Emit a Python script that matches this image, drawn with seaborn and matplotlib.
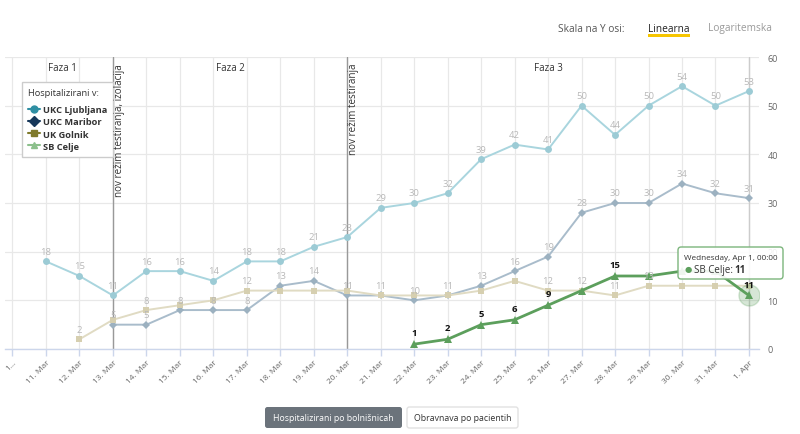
import numpy as np
import pandas as pd
import matplotlib
matplotlib.use("Agg")
import matplotlib.pyplot as plt
import seaborn as sns
from matplotlib.lines import Line2D
from matplotlib.patches import FancyBboxPatch, Rectangle

# ---------------- data ----------------
day_labels = ["1…", "11. Mar", "12. Mar", "13. Mar", "14. Mar", "15. Mar", "16. Mar",
              "17. Mar", "18. Mar", "19. Mar", "20. Mar", "21. Mar", "22. Mar", "23. Mar",
              "24. Mar", "25. Mar", "26. Mar", "27. Mar", "28. Mar", "29. Mar", "30. Mar",
              "31. Mar", "1. Apr"]
ljubljana = [None, 18, 15, 11, 16, 16, 14, 18, 18, 21, 23, 29, 30, 32, 39, 42, 41, 50, 44, 50, 54, 50, 53]
maribor = [None, None, None, 5, 5, 8, 8, 8, 13, 14, 11, 11, 10, 11, 13, 16, 19, 28, 30, 30, 34, 32, 31]
golnik = [None, None, 2, 6, 8, 9, 10, 12, 12, 12, 12, 11, 11, 11, 12, 14, 12, 12, 11, 13, 13, 13, 13]
celje = [None, None, None, None, None, None, None, None, None, None, None, None,
         1, 2, 5, 6, 9, 12, 15, 15, 16, 16, 11]
series_names = ["UKC Ljubljana", "UKC Maribor", "UK Golnik", "SB Celje"]
phase_labels = ["Faza 1", "Faza 2", "Faza 3"]
phase_bounds = [0, 3, 10, 22]
event_days = [3, 10]
event_texts = ["nov režim testiranja, izolacija", "nov režim testiranja"]
yticks = [0, 10, 20, 30, 40, 50, 60]

# ---------------- style ----------------
sns.set_theme(style="white")
plt.rcParams["font.family"] = ["Open Sans", "DejaVu Sans"]

line_colors = {"UKC Ljubljana": "#a9d5de", "UKC Maribor": "#a9bccb",
               "UK Golnik": "#e0dbc3", "SB Celje": "#5c9f5c"}
marker_colors = {"UKC Ljubljana": "#9ccbd5", "UKC Maribor": "#9cb1c0",
                 "UK Golnik": "#d6cfb0", "SB Celje": "#5c9f5c"}
legend_colors = {"UKC Ljubljana": "#2f8fa3", "UKC Maribor": "#17385a",
                 "UK Golnik": "#7f7a2c", "SB Celje": "#8cc08c"}
markers = {"UKC Ljubljana": "o", "UKC Maribor": "D", "UK Golnik": "s", "SB Celje": "^"}
msizes = {"UKC Ljubljana": 5, "UKC Maribor": 4, "UK Golnik": 5, "SB Celje": 6}

days = np.arange(len(day_labels))
df = pd.DataFrame({"day": days, "UKC Ljubljana": ljubljana, "UKC Maribor": maribor,
                   "UK Golnik": golnik, "SB Celje": celje})
long = df.melt(id_vars="day", var_name="series", value_name="value").dropna()
long["value"] = long["value"].astype(float)

fig = plt.figure(figsize=(8, 4.35), dpi=100)
ax = fig.add_axes([5 / 800, 85 / 435, 754 / 800, 292 / 435])

for name in series_names:
    sub = long[long["series"] == name]
    sns.lineplot(data=sub, x="day", y="value", ax=ax, color=line_colors[name],
                 linewidth=2.0 if name == "SB Celje" else 1.4,
                 marker=markers[name], markersize=msizes[name],
                 markerfacecolor=marker_colors[name], markeredgewidth=0,
                 legend=False, zorder=4 if name == "SB Celje" else 3)

# axes
ax.set_xlim(-0.224, 22.3)
ax.set_ylim(0, 60)


def px(x, y):
    return x / 800, 1 - y / 435


# tooltip area in pixels (labels underneath are hidden, like the original)
tip_px = (678, 248, 783, 280)


def under_tooltip(d, v):
    fx, fy = fig.transFigure.inverted().transform(ax.transData.transform((d, v)))
    X = fx * 800
    Y = (1 - fy) * 435 - 9  # label sits above the point
    return tip_px[0] - 5 <= X <= tip_px[2] and tip_px[1] - 4 <= Y <= tip_px[3] + 4


# data labels (hide overlapping ones, like the original)
placed = {}
for name in series_names:
    sub = long[long["series"] == name]
    for d, v in zip(sub["day"], sub["value"]):
        others = placed.get(d, [])
        if any(abs(v - o) <= 2 for o in others):
            continue
        if under_tooltip(d, v):
            continue
        placed.setdefault(d, []).append(v)
        if name == "SB Celje":
            ax.annotate(f"{int(v)}", (d, v), xytext=(0, 5), textcoords="offset points",
                        ha="center", va="bottom", fontsize=6.8, fontweight="bold",
                        color="#111111", zorder=6)
        else:
            ax.annotate(f"{int(v)}", (d, v), xytext=(0, 4), textcoords="offset points",
                        ha="center", va="bottom", fontsize=6.8, color="#b8b8b8", zorder=5)

# hover halo on last Celje point
ax.scatter([days[-1]], [celje[-1]], s=230, color="#5c9f5c", alpha=0.25,
           edgecolor="#5c9f5c", linewidth=1, zorder=5)

ax.set_xticks(days)
ax.set_xticklabels(day_labels, rotation=45, ha="right", rotation_mode="anchor",
                   fontsize=6, color="#666666")
ax.set_yticks(yticks)
ax.set_yticklabels([str(t) for t in yticks], fontsize=6.5, color="#666666")
ax.yaxis.tick_right()
ax.tick_params(axis="x", length=5, color="#ccd6eb", width=1, pad=2, direction="out", bottom=True)
ax.tick_params(axis="y", length=0, pad=6)
ax.grid(True, color="#e8e8e8", linewidth=0.9)
ax.set_axisbelow(True)
for s in ["top", "left", "right"]:
    ax.spines[s].set_visible(False)
ax.spines["bottom"].set_color("#ccd6eb")
ax.spines["bottom"].set_linewidth(1)
ax.set_xlabel("")
ax.set_ylabel("")

# crosshair at hovered day
ax.axvline(days[-1], color="#cccccc", linewidth=1, zorder=2)

# event lines and texts
for d, t in zip(event_days, event_texts):
    ax.axvline(d, color="#999999", linewidth=1, zorder=2)
    ax.text(d + 0.2, 58.8, t, rotation=90, ha="center", va="top", fontsize=7.1,
            color="#333333", zorder=8)

# phase labels
for i, lab in enumerate(phase_labels):
    mid = (phase_bounds[i] + phase_bounds[i + 1]) / 2
    ax.text(mid, 57.9, lab, ha="center", va="center", fontsize=7, color="#333333")

# legend
handles = [Line2D([0], [0], color=legend_colors[n], marker=markers[n], markersize=5,
                  linewidth=1.5) for n in series_names]
leg = ax.legend(handles, series_names, title="Hospitalizirani v:", loc="upper left",
                bbox_to_anchor=((22 - 5) / 754, (350 - 83) / 292), borderaxespad=0,
                fontsize=6.7, title_fontsize=6.7,
                frameon=True, fancybox=False, edgecolor="#cccccc", framealpha=1,
                handlelength=1.3, handletextpad=0.3, labelspacing=0.33, borderpad=0.65)
leg._legend_box.align = "left"
leg._legend_box.sep = 6
for txt in leg.get_texts():
    txt.set_fontweight("bold")
    txt.set_color("#333333")
leg.get_title().set_color("#333333")
leg.set_zorder(7)

# tooltip
x0, y0 = px(tip_px[0], tip_px[3])
tip = FancyBboxPatch((x0, y0), (tip_px[2] - tip_px[0]) / 800, (tip_px[3] - tip_px[1]) / 435,
                     boxstyle="round,pad=0,rounding_size=0.004",
                     mutation_aspect=800 / 435, transform=fig.transFigure,
                     facecolor=(1, 1, 1, 0.9), edgecolor="#7cb57c", linewidth=1, zorder=10)
fig.add_artist(tip)
fig.text(*px(684, 259), "Wednesday, Apr 1, 00:00", fontsize=5.9, color="#333333",
         va="center", ha="left", zorder=11)
fig.text(*px(685, 271), "●", fontsize=6, color="#5c9f5c", va="center", ha="left", zorder=11)
fig.text(*px(694, 271), "SB Celje: ", fontsize=7, color="#333333", va="center", ha="left", zorder=11)
fig.text(*px(734, 271), "11", fontsize=7, color="#333333", fontweight="bold",
         va="center", ha="left", zorder=11)

# top controls
fig.text(*px(558, 29), "Skala na Y osi:", fontsize=7.3, color="#555555", va="center", ha="left")
fig.text(*px(648, 29), "Linearna", fontsize=7.3, color="#222222", va="center", ha="left")
fig.add_artist(Rectangle(px(648, 38), 42 / 800, 3 / 435, transform=fig.transFigure,
                         facecolor="#f7c600", edgecolor="none"))
fig.text(*px(708, 29), "Logaritemska", fontsize=7.3, color="#9a9a9a", va="center", ha="left")

# bottom buttons
b1 = FancyBboxPatch(px(265, 429), 137 / 800, 21 / 435, boxstyle="round,pad=0,rounding_size=0.003",
                    mutation_aspect=800 / 435, transform=fig.transFigure,
                    facecolor="#6b737b", edgecolor="none")
fig.add_artist(b1)
fig.text(*px(333.5, 418.5), "Hospitalizirani po bolnišnicah", fontsize=6.3, color="white",
         va="center", ha="center")
b2 = FancyBboxPatch(px(407, 429), 111 / 800, 21 / 435, boxstyle="round,pad=0,rounding_size=0.003",
                    mutation_aspect=800 / 435, transform=fig.transFigure,
                    facecolor="white", edgecolor="#e2e2e2", linewidth=1)
fig.add_artist(b2)
fig.text(*px(462.5, 418.5), "Obravnava po pacientih", fontsize=6.3, color="#333333",
         va="center", ha="center")

fig.savefig("out.png", dpi=100)
